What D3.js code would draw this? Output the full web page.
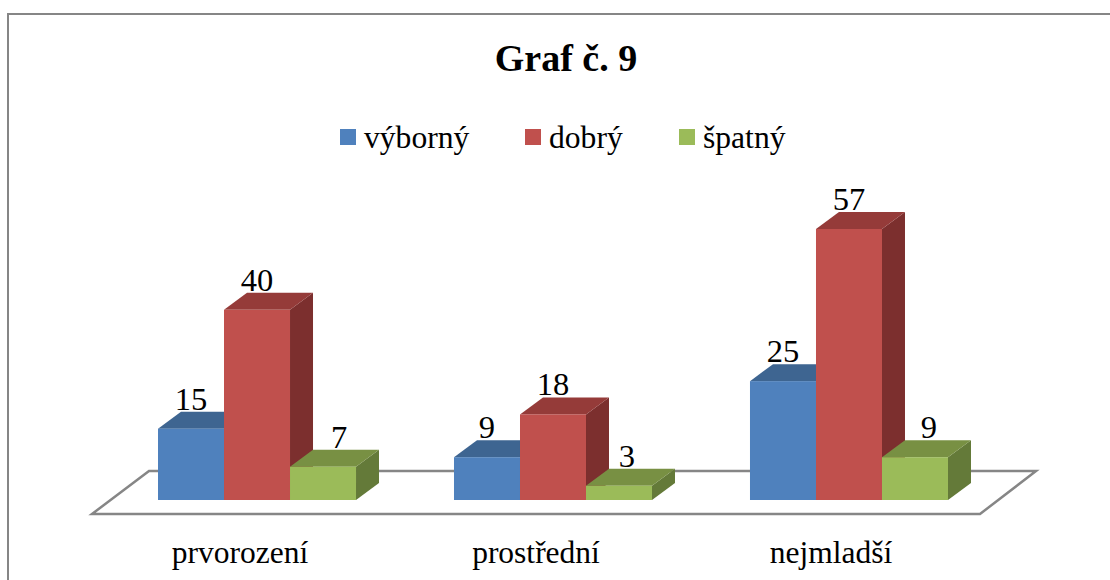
<!DOCTYPE html>
<html><head><meta charset="utf-8">
<script src="https://cdn.jsdelivr.net/npm/d3@7"></script>
<style>html,body{margin:0;padding:0;background:#fff}svg{display:block}text{font-family:"Liberation Serif",serif;fill:#000}</style>
</head><body><svg id="c" width="1110" height="580"></svg>
<script>
const titleText = "Graf č. 9";
const categories = ["prvorození", "prostřední", "nejmladší"];
const seriesNames = ["výborný", "dobrý", "špatný"];
const vyborny = [15, 9, 25];
const dobry = [40, 18, 57];
const spatny = [7, 3, 9];
const seriesValues = [vyborny, dobry, spatny];

const frontColors = ["#4f81bd", "#c0504d", "#9bbb59"];
const topColors = ["#3e6591", "#953b39", "#789043"];
const sideColors = ["#325178", "#7c2f2e", "#647a39"];
// hand-placed label nudges in the source chart
const greenLabelShift = [16, 8, 14];
const categoryLabelShift = [-17, -17, -18];
const legendX = [340, 525, 679];

const W = 1110, H = 580, depthX = 23, depthY = 17, baseY = 500;
const svg = d3.select("#c");

svg.append("rect").attr("x", 8).attr("y", 14).attr("width", 1120).attr("height", 600)
  .attr("fill", "#fff").attr("stroke", "#868686").attr("stroke-width", 2);

svg.append("text").attr("x", 566).attr("y", 71).attr("text-anchor", "middle")
  .attr("font-weight", "bold").attr("font-size", 38).text(titleText);

const legend = svg.selectAll("g.legend").data(seriesNames).join("g").attr("class", "legend")
  .attr("transform", (d, i) => `translate(${legendX[i]},129)`);
legend.append("rect").attr("width", 16).attr("height", 16).attr("fill", (d, i) => frontColors[i]);
legend.append("text").attr("x", 24).attr("y", 19).attr("font-size", 31.6).text(d => d);

const x0 = d3.scaleBand().domain(categories).range([158, 948]).paddingInner(0.331).paddingOuter(0);
const x1 = d3.scaleBand().domain(seriesNames).range([0, x0.bandwidth()]);
const y = d3.scaleLinear().domain([0, 57]).range([baseY, 229]);

// floor
const floorPts = [[92, 514], [149, 471], [1036, 471], [980, 514]];
svg.append("path").attr("d", d3.line()(floorPts) + "Z")
  .attr("fill", "none").attr("stroke", "#868686").attr("stroke-width", 2.5);

const bw = x1.bandwidth();
categories.forEach((cat, c) => {
  const g = svg.append("g").attr("transform", `translate(${x0(cat)},0)`);
  seriesNames.forEach((s, k) => {
    const v = seriesValues[k][c], X = x1(s), T = y(v);
    g.append("path").attr("fill", sideColors[k])
      .attr("d", d3.line()([[X + bw, T], [X + bw + depthX, T - depthY], [X + bw + depthX, baseY - depthY], [X + bw, baseY]]) + "Z");
    g.append("path").attr("fill", topColors[k])
      .attr("d", d3.line()([[X, T], [X + depthX, T - depthY], [X + bw + depthX, T - depthY], [X + bw, T]]) + "Z");
    g.append("rect").attr("x", X).attr("y", T).attr("width", bw).attr("height", baseY - T).attr("fill", frontColors[k]);
    g.append("text").attr("x", X + bw / 2 + (k === 2 ? greenLabelShift[c] : 0)).attr("y", T - depthY - 2)
      .attr("text-anchor", "middle").attr("font-size", 32.5).text(v);
  });
  svg.append("text").attr("x", x0(cat) + x0.bandwidth() / 2 + categoryLabelShift[c]).attr("y", 563)
    .attr("text-anchor", "middle").attr("font-size", 31.5).text(cat);
});
</script></body></html>
